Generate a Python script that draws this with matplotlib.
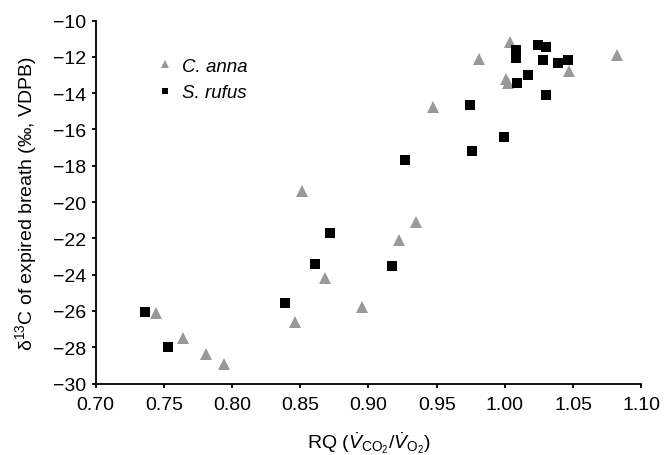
import matplotlib
matplotlib.use("Agg")
import matplotlib.pyplot as plt

plt.rcParams['font.family'] = ['Liberation Sans', 'DejaVu Sans']
plt.rcParams['mathtext.fontset'] = 'custom'
plt.rcParams['mathtext.rm'] = 'Liberation Sans'
plt.rcParams['mathtext.it'] = 'Liberation Sans:italic'

# C. anna (grey triangles)
anna_rq = [0.744, 0.764, 0.781, 0.794, 0.846, 0.868, 0.895, 0.851, 0.922, 0.935,
           0.947, 0.981, 1.004, 1.001, 1.002, 1.047, 1.082]
anna_d13c = [-26.1, -27.5, -28.4, -28.9, -26.6, -24.2, -25.8, -19.4, -22.1, -21.1,
             -14.75, -12.1, -11.2, -13.25, -13.45, -12.8, -11.9]

# S. rufus (black squares)
rufus_rq = [0.736, 0.753, 0.839, 0.861, 0.872, 0.917, 0.927, 0.976, 0.9995, 0.974,
            1.008, 1.008, 1.024, 1.030, 1.028, 1.039, 1.046, 1.017, 1.009, 1.030]
rufus_d13c = [-26.05, -28.0, -25.55, -23.4, -21.7, -23.5, -17.7, -17.2, -16.4, -14.65,
              -11.65, -12.05, -11.35, -11.45, -12.2, -12.35, -12.2, -13.0, -13.45, -14.1]

x_ticks = [0.70, 0.75, 0.80, 0.85, 0.90, 0.95, 1.00, 1.05, 1.10]
y_ticks = [-30, -28, -26, -24, -22, -20, -18, -16, -14, -12, -10]

fig = plt.figure(figsize=(6.64, 4.56), dpi=100)
ax = fig.add_axes([95.5 / 664, 71.5 / 456, 546 / 664, 363 / 456])

ax.plot(anna_rq, anna_d13c, linestyle='none', marker='^', markersize=8.4,
        color='#999999', markeredgewidth=0, label='C. anna', clip_on=False)
ax.plot(rufus_rq, rufus_d13c, linestyle='none', marker='s', markersize=7,
        color='black', markeredgewidth=0, label='S. rufus', clip_on=False)

ax.set_xlim(0.70, 1.10)
ax.set_ylim(-30, -10)
ax.set_xticks(x_ticks)
ax.set_xticklabels([f'{v:.2f}' for v in x_ticks])
ax.set_yticks(y_ticks)
ax.set_yticklabels([f'\u2212{abs(v)}' for v in y_ticks])

for side in ['top', 'right']:
    ax.spines[side].set_visible(False)
for side in ['left', 'bottom']:
    ax.spines[side].set_linewidth(1.3)
ax.tick_params(direction='out', length=3, width=1.3, labelsize=14)
ax.tick_params(axis='x', pad=6)
ax.tick_params(axis='y', pad=4)

ax.set_xlabel(r'RQ ($\dot{V}_{\mathrm{CO_2}}/\dot{V}_{\mathrm{O_2}}$)', fontsize=14, labelpad=12)
ax.set_ylabel('\u03b4$^{13}$C of expired breath (\u2030, VDPB)', fontsize=14, labelpad=10)

leg = ax.legend(loc='upper left', bbox_to_anchor=(148 / 664, 1 - 51 / 456),
                bbox_transform=fig.transFigure, frameon=False, borderaxespad=0,
                fontsize=13.5, handletextpad=0.4, labelspacing=0.5,
                handlelength=1.0, markerscale=0.7)
for t in leg.get_texts():
    t.set_fontstyle('italic')

fig.savefig('out.png', dpi=100)
